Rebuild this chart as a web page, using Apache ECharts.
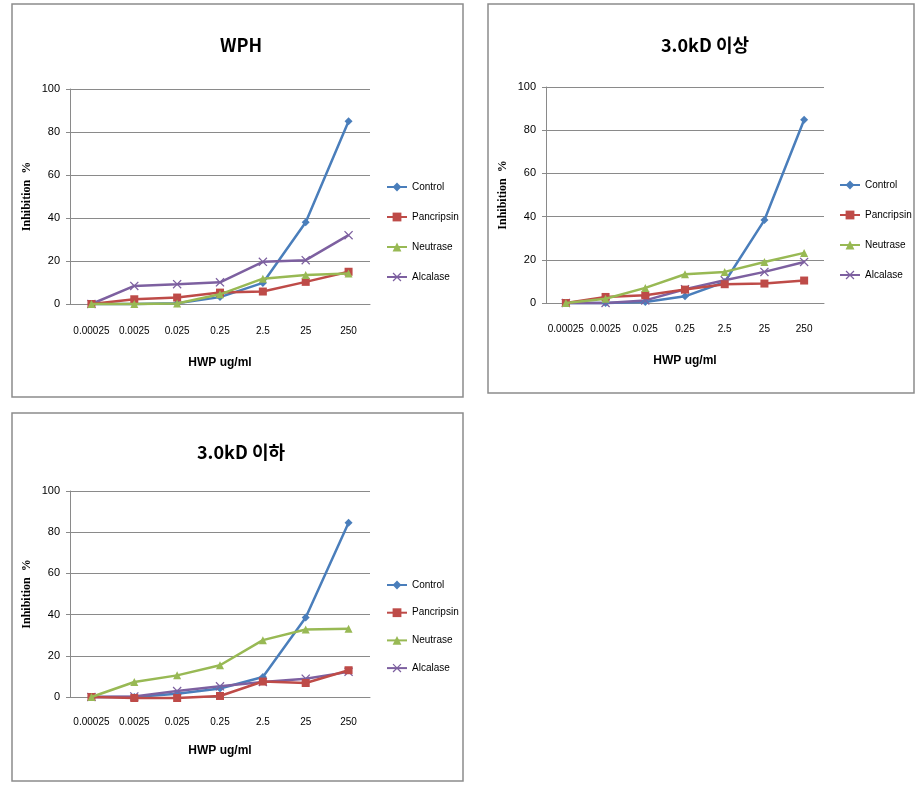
<!DOCTYPE html>
<html>
<head>
<meta charset="utf-8">
<script src="https://cdn.jsdelivr.net/npm/echarts@6/dist/echarts.min.js"></script>
<style>
html,body{margin:0;padding:0;background:#fff;}
#c{width:920px;height:786px;}
</style>
</head>
<body>
<div id="c"></div>
<script>
// ---- data ----
const categories = ['0.00025','0.0025','0.025','0.25','2.5','25','250'];
const seriesNames = ['Control','Pancripsin','Neutrase','Alcalase'];
const panelTitles = ['WPH','3.0kD 이상','3.0kD 이하'];
const yTicks = [0,20,40,60,80,100];
const xAxisTitle = 'HWP ug/ml';
const yAxisTitle = 'Inhibition  %';

// WPH
const wphControl    = [0, 0, 0.3, 3.2, 9.8, 38, 85];
const wphPancripsin = [0, 2.2, 3, 5.3, 5.8, 10.3, 15];
const wphNeutrase   = [0, 0, 0.2, 4.5, 11.8, 13.5, 14.2];
const wphAlcalase   = [0, 8.4, 9.2, 10.1, 19.6, 20.4, 32];

// 3.0kD 이상
const upControl    = [0, 0, 0.5, 3.1, 9.7, 38.4, 84.8];
const upPancripsin = [0, 2.8, 3.6, 6.2, 8.7, 9, 10.4];
const upNeutrase   = [0, 2, 7, 13.3, 14.4, 19, 23.2];
const upAlcalase   = [0, 0, 1.2, 6.4, 10.5, 14.4, 19];

// 3.0kD 이하
const lowControl    = [0, 0, 1.6, 4.1, 9.7, 38.6, 84.6];
const lowPancripsin = [0, -0.5, -0.5, 0.5, 7.5, 6.8, 13];
const lowNeutrase   = [0, 7.3, 10.5, 15.4, 27.6, 32.8, 33.1];
const lowAlcalase   = [0, 0.3, 2.9, 5.2, 7.3, 8.9, 12.2];

const panelData = [
  [wphControl, wphPancripsin, wphNeutrase, wphAlcalase],
  [upControl, upPancripsin, upNeutrase, upAlcalase],
  [lowControl, lowPancripsin, lowNeutrase, lowAlcalase]
];

// ---- styles ----
const colors = ['#4a7ebb','#be4b48','#98b954','#7d60a0'];
const xSym = 'path://M0,1L1,0L5,4L9,0L10,1L6,5L10,9L9,10L5,6L1,10L0,9L4,5Z';
const symbols = ['diamond','rect','triangle',xSym];
const symbolSizes = [8,8,8,9];
const sans = "'Liberation Sans',Arial,sans-serif";
const gridColor = '#8a8a8a';

const layout = [
  {grid:{left:70, top:89, width:300, height:215}, title:{x:236, y:31}, legend:{left:381, top:177, gap:20}, frame:[12,4,451,393], labelMargin:22, nameGap:53},
  {grid:{left:546, top:87, width:278, height:216}, title:{x:700, y:31}, legend:{left:834, top:175, gap:20}, frame:[488,4,426,389], labelMargin:21, nameGap:52},
  {grid:{left:70, top:491, width:300, height:206}, title:{x:236, y:438}, legend:{left:381, top:575, gap:17.7}, frame:[12,413,451,368], labelMargin:20, nameGap:48}
];

const option = {
  animation:false,
  backgroundColor:'#fff',
  title: layout.map((l,i)=>({
    text: panelTitles[i], left:l.title.x, top:l.title.y, textAlign:'center',
    textStyle:{fontFamily:"'Noto Sans CJK KR',sans-serif", fontWeight:'bold', fontSize:18, color:'#000'}
  })),
  legend: layout.map((l,i)=>({
    data: seriesNames, orient:'vertical', left:l.legend.left, top:l.legend.top,
    itemGap:l.legend.gap, itemWidth:20, itemHeight:11, selectedMode:false,
    textStyle:{fontFamily:sans, fontSize:10, color:'#000'}
  })),
  grid: layout.map(l=>l.grid),
  xAxis: layout.map((l,i)=>({
    type:'category', gridIndex:i, data:categories, boundaryGap:true,
    name:xAxisTitle, nameLocation:'middle', nameGap:l.nameGap,
    nameTextStyle:{fontFamily:sans, fontWeight:'bold', fontSize:12, color:'#000'},
    axisLine:{lineStyle:{color:gridColor, width:1}},
    axisTick:{alignWithLabel:true, length:5, lineStyle:{color:gridColor}},
    axisLabel:{fontFamily:sans, fontSize:10, color:'#000', margin:l.labelMargin, interval:0}
  })),
  yAxis: layout.map((l,i)=>({
    type:'value', gridIndex:i, min:yTicks[0], max:yTicks[yTicks.length-1], interval:yTicks[1]-yTicks[0],
    name:yAxisTitle, nameLocation:'middle', nameGap:37,
    nameTextStyle:{fontFamily:"'Liberation Serif','DejaVu Serif',serif", fontWeight:'bold', fontSize:12, color:'#000'},
    axisLine:{show:true, lineStyle:{color:gridColor, width:1}},
    axisTick:{show:true, length:4, lineStyle:{color:gridColor}},
    axisLabel:{fontFamily:sans, fontSize:11, color:'#000', margin:10},
    splitLine:{show:true, lineStyle:{color:gridColor, width:1}}
  })),
  series: [],
  graphic: layout.map(l=>({
    type:'rect', z:-10, silent:true,
    shape:{x:l.frame[0], y:l.frame[1], width:l.frame[2], height:l.frame[3]},
    style:{fill:'none', stroke:'#8c8c8c', lineWidth:1.5}
  }))
};

panelData.forEach((arrs,p)=>{
  arrs.forEach((vals,s)=>{
    option.series.push({
      type:'line', name:seriesNames[s], xAxisIndex:p, yAxisIndex:p,
      data:vals, clip:false,
      symbol:symbols[s], symbolSize:symbolSizes[s], showSymbol:true,
      lineStyle:{color:colors[s], width:2.5},
      itemStyle:{color:colors[s]},
      z: 2 + (s===3?0:s)
    });
  });
});

const chart = echarts.init(document.getElementById('c'), null, {renderer:'canvas'});
chart.setOption(option);
</script>
</body>
</html>
